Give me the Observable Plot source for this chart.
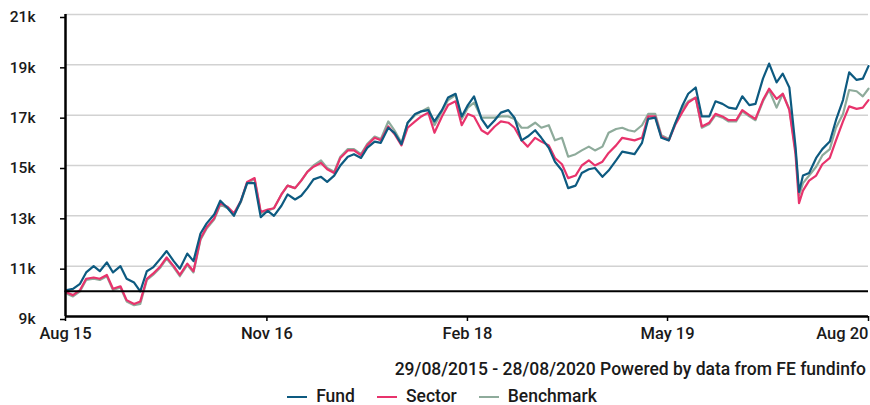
<!DOCTYPE html>
<html>
<head>
<meta charset="utf-8">
<script src="https://cdn.jsdelivr.net/npm/d3@7"></script>
<script src="https://cdn.jsdelivr.net/npm/@observablehq/plot@0.6"></script>
<style>
  html, body { margin: 0; padding: 0; background: #fff; }
  body { width: 870px; height: 405px; overflow: hidden; font-family: Roboto, sans-serif; color: #1a1a1a; }
  #caption { height: 34px; line-height: 34px; text-align: right; padding-right: 4px; font-size: 17.5px; font-weight: 500; white-space: nowrap; }
  #legend { height: 21px; line-height: 21px; display: flex; justify-content: center; gap: 22px; font-size: 17.5px; font-weight: 500; padding-left: 14px; }
  .item { display: flex; align-items: center; gap: 9px; }
  .sw { width: 20px; height: 2px; display: inline-block; }
</style>
</head>
<body>
<div id="chart"></div>
<div id="caption"></div>
<div id="legend"></div>
<script>
// Dates (semi-monthly samples)
const dates = [
  "2015-08-29",
  "2015-09-01","2015-09-15","2015-10-01","2015-10-15","2015-11-01","2015-11-15","2015-12-01","2015-12-15",
  "2016-01-01","2016-01-15","2016-02-01","2016-02-15","2016-03-01","2016-03-15","2016-04-01","2016-04-15",
  "2016-05-01","2016-05-15","2016-06-01","2016-06-15","2016-07-01","2016-07-15","2016-08-01","2016-08-15",
  "2016-09-01","2016-09-15","2016-10-01","2016-10-15","2016-11-01","2016-11-15","2016-12-01","2016-12-15",
  "2017-01-01","2017-01-15","2017-02-01","2017-02-15","2017-03-01","2017-03-15","2017-04-01","2017-04-15",
  "2017-05-01","2017-05-15","2017-06-01","2017-06-15","2017-07-01","2017-07-15","2017-08-01","2017-08-15",
  "2017-09-01","2017-09-15","2017-10-01","2017-10-15","2017-11-01","2017-11-15","2017-12-01","2017-12-15",
  "2018-01-01","2018-01-15","2018-02-01","2018-02-15","2018-03-01","2018-03-15","2018-04-01","2018-04-15",
  "2018-05-01","2018-05-15","2018-06-01","2018-06-15","2018-07-01","2018-07-15","2018-08-01","2018-08-15",
  "2018-09-01","2018-09-15","2018-10-01","2018-10-15","2018-11-01","2018-11-15","2018-12-01","2018-12-15",
  "2019-01-01","2019-01-15","2019-02-01","2019-02-15","2019-03-01","2019-03-15","2019-04-01","2019-04-15",
  "2019-05-01","2019-05-15","2019-06-01","2019-06-15","2019-07-01","2019-07-15","2019-08-01","2019-08-15",
  "2019-09-01","2019-09-15","2019-10-01","2019-10-15","2019-11-01","2019-11-15","2019-12-01","2019-12-15",
  "2020-01-01","2020-01-15","2020-02-01","2020-02-15","2020-03-01","2020-03-15","2020-03-23","2020-04-01","2020-04-15",
  "2020-05-01","2020-05-15","2020-06-01","2020-06-15","2020-07-01","2020-07-15","2020-08-01","2020-08-15",
  "2020-08-28"
];

// Values in thousands
const fund = [
  10.0,
  10.05, 10.1, 10.3, 10.75, 11.0, 10.8, 11.15, 10.75, 11.0, 10.5,
  10.35, 10.0, 10.8, 10.95, 11.3, 11.6, 11.2, 10.9, 11.5, 11.2,
  12.3, 12.7, 13.05, 13.6, 13.3, 13.0, 13.6, 14.3, 14.3, 12.95,
  13.2, 13.0, 13.4, 13.85, 13.65, 13.8, 14.1, 14.45, 14.55, 14.35,
  14.6, 15.0, 15.35, 15.45, 15.3, 15.7, 15.95, 15.9, 16.5, 16.3,
  15.85, 16.7, 17.05, 17.15, 17.2, 16.75, 17.2, 17.7, 17.85, 16.95,
  17.4, 17.75, 16.85, 16.5, 16.8, 17.1, 17.2, 16.9, 16.0, 16.15,
  16.4, 16.1, 15.7, 15.15, 14.8, 14.1, 14.2, 14.7, 14.85, 14.9,
  14.55, 14.8, 15.2, 15.55, 15.5, 15.45, 15.9, 16.85, 16.9, 16.1,
  16.0, 16.65, 17.35, 17.85, 18.1, 16.95, 16.95, 17.55, 17.45, 17.3,
  17.25, 17.75, 17.4, 17.45, 18.45, 19.05, 18.3, 18.65, 18.1, 15.75,
  13.95,
  14.6, 14.7, 15.3, 15.65, 15.95, 16.8, 17.6, 18.7, 18.4, 18.45,
  18.95
];
const sector = [
  10.0,
  9.95, 9.85, 10.05, 10.5, 10.55, 10.5, 10.65, 10.1, 10.2, 9.65,
  9.5, 9.6, 10.5, 10.7, 11.0, 11.35, 11.0, 10.65, 11.1, 10.8,
  12.1, 12.55, 12.9, 13.5, 13.35, 13.1, 13.6, 14.35, 14.5, 13.15,
  13.25, 13.3, 13.85, 14.2, 14.1, 14.4, 14.75, 14.95, 15.1, 14.85,
  14.7, 15.3, 15.6, 15.6, 15.4, 15.8, 16.1, 16.0, 16.55, 16.25,
  15.8, 16.5, 16.75, 16.95, 17.1, 16.3, 16.95, 17.4, 17.55, 16.6,
  17.05, 16.95, 16.4, 16.25, 16.55, 16.75, 16.7, 16.5, 16.0, 15.75,
  16.1, 15.95, 15.8, 15.3, 15.05, 14.5, 14.6, 15.0, 15.2, 15.0,
  15.15, 15.5, 15.8, 16.1, 16.05, 16.0, 16.1, 16.95, 16.95, 16.15,
  16.0, 16.6, 17.1, 17.5, 17.7, 16.55, 16.7, 17.05, 16.95, 16.8,
  16.8, 17.2, 17.0, 16.85, 17.6, 18.05, 17.65, 17.85, 17.2, 15.45,
  13.5,
  14.0, 14.4, 14.6, 15.05, 15.3, 16.0, 16.75, 17.35, 17.25, 17.3,
  17.6
];
const benchmark = [
  10.0,
  9.9, 9.8, 10.0, 10.45, 10.5, 10.45, 10.6, 10.05, 10.15, 9.6,
  9.45, 9.5, 10.45, 10.65, 10.95, 11.3, 10.95, 10.6, 11.05, 10.75,
  12.05, 12.5, 12.85, 13.45, 13.3, 13.05, 13.55, 14.3, 14.45, 13.1,
  13.2, 13.3, 13.85, 14.2, 14.1, 14.4, 14.75, 15.0, 15.2, 14.9,
  14.75, 15.35, 15.65, 15.65, 15.45, 15.85, 16.15, 16.05, 16.75, 16.4,
  15.9, 16.7, 17.0, 17.15, 17.3, 16.6, 17.15, 17.6, 17.8, 16.85,
  17.3, 17.5, 16.9, 16.9, 16.9, 16.95, 16.95, 16.85, 16.5, 16.5,
  16.7, 16.5, 16.6, 16.0, 16.1, 15.35, 15.45, 15.6, 15.75, 15.6,
  15.75, 16.3, 16.45, 16.5, 16.4, 16.35, 16.6, 17.05, 17.05, 16.2,
  16.05, 16.65, 17.25, 17.55, 17.7, 16.5, 16.65, 17.0, 16.9, 16.75,
  16.75, 17.15, 16.95, 16.8, 17.55, 18.0, 17.3, 17.85, 17.25, 15.6,
  13.8,
  14.3, 14.6, 14.95, 15.4, 15.65, 16.5, 17.05, 18.0, 17.95, 17.75,
  18.05
];

const seriesNames = ["Fund", "Sector", "Benchmark"];
const seriesColors = ["#0d5a80", "#e8336c", "#8eab9b"];
const yTicks = [9, 11, 13, 15, 17, 19, 21];
const xTickDates = ["2015-08-29", "2016-11-29", "2018-02-28", "2019-05-29", "2020-08-28"];
const xTickLabels = ["Aug 15", "Nov 16", "Feb 18", "May 19", "Aug 20"];
const baseline = 10;
const captionText = "29/08/2015 - 28/08/2020 Powered by data from FE fundinfo";

const parse = d3.utcParse("%Y-%m-%d");
const seriesValues = [fund, sector, benchmark];
const tables = seriesValues.map((vals, s) => dates.map((d, i) => ({date: parse(d), value: vals[i], name: seriesNames[s]})));
const xTicks = xTickDates.map(parse);
const labelOf = new Map(xTicks.map((d, i) => [+d, xTickLabels[i]]));
const fmtX = d => labelOf.get(+d);

const chart = Plot.plot({
  width: 870,
  height: 352,
  marginTop: 14,
  marginBottom: 36,
  marginLeft: 65,
  marginRight: 2,
  style: {fontFamily: "Roboto, sans-serif", fontSize: "15px", fontWeight: 500, color: "#1a1a1a", background: "#fff"},
  x: {type: "utc", domain: [parse(dates[0]), parse(dates[dates.length - 1])]},
  y: {domain: [9, 21]},
  marks: [
    Plot.ruleY(yTicks.slice(1), {stroke: "#d2d2d2", strokeWidth: 1.5}),
    Plot.axisY(yTicks, {tickSize: 5, tickPadding: 25, tickFormat: d => d + "k", label: null, fontSize: 15.5, dy: 3, stroke: "#000", strokeWidth: 1.5}),
    Plot.axisX(xTicks.slice(0, 4), {tickSize: 5, tickPadding: 6, tickFormat: fmtX, label: null, fontSize: 16.5, stroke: "#000", strokeWidth: 1.5}),
    Plot.axisX(xTicks.slice(4), {tickSize: 5, tickPadding: 6, tickFormat: fmtX, label: null, fontSize: 16.5, textAnchor: "end", stroke: "#000", strokeWidth: 1.5}),
    Plot.line(tables[2], {x: "date", y: "value", stroke: seriesColors[2], strokeWidth: 2.2}),
    Plot.line(tables[1], {x: "date", y: "value", stroke: seriesColors[1], strokeWidth: 2.2}),
    Plot.line(tables[0], {x: "date", y: "value", stroke: seriesColors[0], strokeWidth: 2.2}),
    Plot.ruleY([baseline], {stroke: "#000", strokeWidth: 2}),
    Plot.ruleY([9], {stroke: "#000", strokeWidth: 2.5}),
    Plot.ruleX([parse(dates[0])], {stroke: "#000", strokeWidth: 2.5})
  ]
});
document.getElementById("chart").appendChild(chart);
document.getElementById("caption").textContent = captionText;

const legend = document.getElementById("legend");
seriesNames.forEach((n, i) => {
  const item = document.createElement("span");
  item.className = "item";
  const sw = document.createElement("span");
  sw.className = "sw";
  sw.style.background = seriesColors[i];
  const t = document.createElement("span");
  t.textContent = n;
  item.appendChild(sw);
  item.appendChild(t);
  legend.appendChild(item);
});
</script>
</body>
</html>
